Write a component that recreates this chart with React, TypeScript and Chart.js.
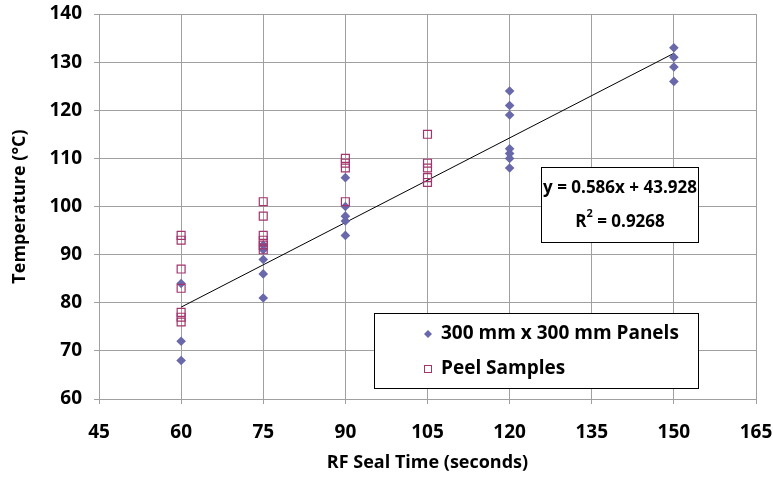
import React, { useEffect, useRef } from 'react';
import { Chart, registerables } from 'chart.js';

Chart.register(...registerables);

// ---- data ----
const panelTimes = [60, 60, 60, 75, 75, 75, 75, 75, 90, 90, 90, 90, 90, 120, 120, 120, 120, 120, 120, 120, 150, 150, 150, 150];
const panelTemps = [84, 72, 68, 92, 91, 89, 86, 81, 106, 100, 98, 97, 94, 124, 121, 119, 112, 111, 110, 108, 133, 131, 129, 126];
const peelTimes = [60, 60, 60, 60, 60, 60, 60, 75, 75, 75, 75, 75, 75, 90, 90, 90, 90, 105, 105, 105, 105, 105];
const peelTemps = [94, 93, 87, 83, 78, 77, 76, 101, 98, 94, 93, 92, 91, 110, 109, 108, 101, 115, 109, 108, 106, 105];
const trendSlope = 0.586;
const trendIntercept = 43.928;
const rSquared = '0.9268';
const trendRange = [60, 150];
const seriesNames = ['300 mm x 300 mm Panels', 'Peel Samples'];
const xAxisTitle = 'RF Seal Time (seconds)';
const yAxisTitle = 'Temperature (°C)';
const xMin = 45, xMax = 165, xStep = 15;
const yMin = 60, yMax = 140, yStep = 10;

const FONT = "'Open Sans', 'DejaVu Sans', sans-serif";
const PANEL_COLOR = '#6868AA';
const PEEL_COLOR = '#A3346E';
const GRID = '#A0A0A0';

const overlayPlugin = {
  id: 'overlayBoxes',
  afterDraw(chart: any) {
    const ctx = chart.ctx as CanvasRenderingContext2D;
    ctx.save();
    // legend box
    ctx.fillStyle = '#ffffff';
    ctx.strokeStyle = '#000000';
    ctx.lineWidth = 1;
    ctx.fillRect(374, 313, 324, 75);
    ctx.strokeRect(374.5, 313.5, 324, 75);
    // diamond marker
    ctx.fillStyle = PANEL_COLOR;
    ctx.beginPath();
    ctx.moveTo(428, 330);
    ctx.lineTo(432, 334);
    ctx.lineTo(428, 338);
    ctx.lineTo(424, 334);
    ctx.closePath();
    ctx.fill();
    // square marker
    ctx.strokeStyle = PEEL_COLOR;
    ctx.strokeRect(424.5, 365.5, 7, 7);
    ctx.fillStyle = '#000000';
    ctx.font = `bold 19px ${FONT}`;
    ctx.textBaseline = 'middle';
    ctx.textAlign = 'left';
    ctx.fillText(seriesNames[0], 441, 334);
    ctx.fillText(seriesNames[1], 441, 369);

    // equation box
    ctx.fillStyle = '#ffffff';
    ctx.fillRect(541, 167, 157, 75);
    ctx.strokeStyle = '#000000';
    ctx.strokeRect(541.5, 167.5, 157, 75);
    ctx.fillStyle = '#000000';
    ctx.textAlign = 'center';
    ctx.font = `bold 17px ${FONT}`;
    ctx.fillText(`y = ${trendSlope}x + ${trendIntercept}`, 620, 188);
    // R^2 line
    const part1 = 'R';
    const part3 = ` = ${rSquared}`;
    ctx.font = `bold 17px ${FONT}`;
    const w1 = ctx.measureText(part1).width;
    const w3 = ctx.measureText(part3).width;
    ctx.font = `bold 11px ${FONT}`;
    const w2 = ctx.measureText('2').width;
    const total = w1 + w2 + w3;
    let x = 620 - total / 2;
    ctx.textAlign = 'left';
    ctx.font = `bold 17px ${FONT}`;
    ctx.fillText(part1, x, 222);
    x += w1;
    ctx.font = `bold 11px ${FONT}`;
    ctx.fillText('2', x, 214);
    x += w2;
    ctx.font = `bold 17px ${FONT}`;
    ctx.fillText(part3, x, 222);
    ctx.restore();
  },
};

export default function App() {
  const ref = useRef<HTMLCanvasElement | null>(null);

  useEffect(() => {
    document.body.style.margin = '0';
    const canvas = ref.current;
    if (!canvas) return;
    const panelData = panelTimes.map((t, i) => ({ x: t, y: panelTemps[i] }));
    const peelData = peelTimes.map((t, i) => ({ x: t, y: peelTemps[i] }));
    const trendData = trendRange.map((t) => ({ x: t, y: trendSlope * t + trendIntercept }));

    const chart = new Chart(canvas, {
      type: 'scatter',
      data: {
        datasets: [
          {
            label: seriesNames[0],
            data: panelData,
            pointStyle: 'rectRot',
            pointRadius: 4.8,
            backgroundColor: PANEL_COLOR,
            borderColor: PANEL_COLOR,
            borderWidth: 0,
            order: 2,
          },
          {
            label: seriesNames[1],
            data: peelData,
            pointStyle: 'rect',
            pointRadius: 5.6,
            backgroundColor: 'rgba(0,0,0,0)',
            borderColor: PEEL_COLOR,
            borderWidth: 1.2,
            order: 1,
          },
          {
            label: 'Linear trend',
            type: 'line',
            data: trendData,
            borderColor: '#000000',
            borderWidth: 1,
            pointRadius: 0,
            fill: false,
            order: 3,
          } as any,
        ],
      },
      options: {
        responsive: false,
        animation: false,
        events: [],
        layout: { padding: { top: 14, right: 17, bottom: 2, left: 0 } },
        plugins: {
          legend: { display: false },
          tooltip: { enabled: false },
        },
        scales: {
          x: {
            type: 'linear',
            min: xMin,
            max: xMax,
            ticks: {
              stepSize: xStep,
              color: '#000000',
              font: { family: FONT, size: 19, weight: 'bold' },
              padding: 17,
              maxRotation: 0,
            },
            grid: { color: GRID, tickLength: 5, lineWidth: 1 },
            border: { color: GRID },
            title: {
              display: true,
              text: xAxisTitle,
              color: '#000000',
              font: { family: FONT, size: 18, weight: 'bold' },
              padding: { top: 2, bottom: 3 },
            },
            afterFit(scale: any) {
              scale.height = 479 - 399 - 2;
              scale.paddingLeft = 0;
              scale.paddingRight = 0;
            },
          },
          y: {
            type: 'linear',
            min: yMin,
            max: yMax,
            ticks: {
              stepSize: yStep,
              color: '#000000',
              font: { family: FONT, size: 19, weight: 'bold' },
              padding: 12,
            },
            grid: { color: GRID, tickLength: 5, lineWidth: 1 },
            border: { color: GRID },
            title: {
              display: true,
              text: yAxisTitle,
              color: '#000000',
              font: { family: FONT, size: 18, weight: 'bold' },
              padding: { top: 9, bottom: 4 },
            },
            afterFit(scale: any) {
              scale.width = 99;
              scale.paddingTop = 0;
              scale.paddingBottom = 0;
            },
          },
        },
      },
      plugins: [overlayPlugin],
    });
    return () => chart.destroy();
  }, []);

  return (
    <div style={{ width: 773, height: 479, position: 'relative' }}>
      <canvas ref={ref} width={773} height={479} />
    </div>
  );
}
